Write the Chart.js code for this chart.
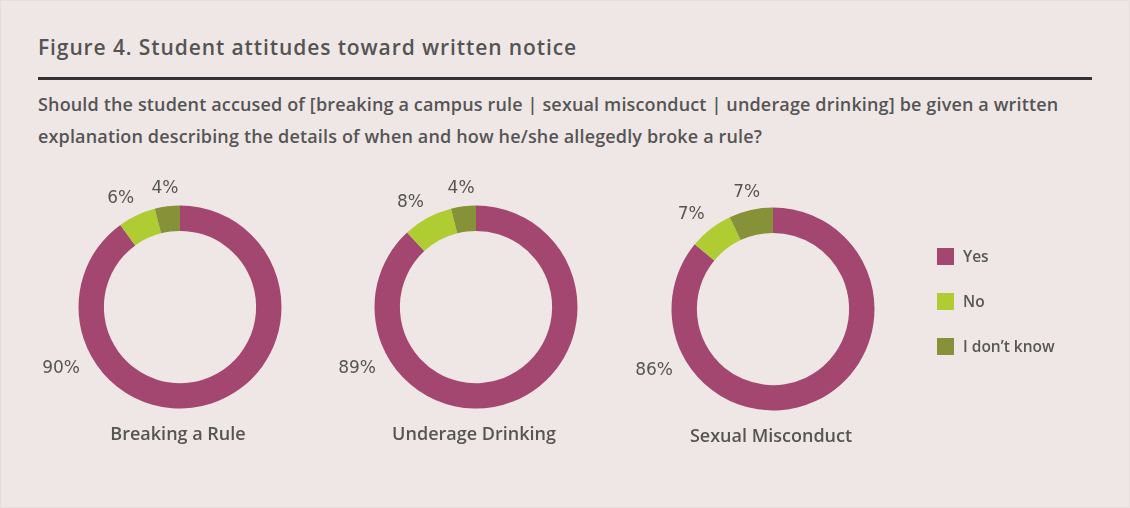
<!DOCTYPE html>
<html>
<head>
<meta charset="utf-8">
<script src="https://cdn.jsdelivr.net/npm/chart.js@4.4.1/dist/chart.umd.min.js"></script>
<style>
  html,body{margin:0;padding:0;}
  body{width:1130px;height:508px;background:#efe7e5;position:relative;overflow:hidden;font-family:"Open Sans",sans-serif;color:#4f4f4f;}
  #frame{position:absolute;left:0;top:0;width:1128px;height:506px;border:1px solid #e6dedc;}
  #title{position:absolute;left:38px;top:33px;font-size:21px;font-weight:600;color:#545454;white-space:nowrap;letter-spacing:0.9px;line-height:28px;}
  #rule{position:absolute;left:38px;top:77px;width:1054px;height:3px;background:#363233;}
  #sub{position:absolute;left:38px;top:88px;font-size:18px;font-weight:600;color:#555;line-height:32px;white-space:nowrap;letter-spacing:0.15px;}
  .c{position:absolute;width:300px;height:300px;}
  #legend{position:absolute;left:937px;top:248px;}
  .li{position:relative;height:45px;font-size:15.5px;font-weight:600;color:#575757;}
  .sw{position:absolute;left:0;top:0;width:17px;height:17px;}
  .lt{position:absolute;left:26px;top:-3px;white-space:nowrap;}
</style>
</head>
<body>
<div id="frame"></div>
<div id="title">Figure 4. Student attitudes toward written notice</div>
<div id="rule"></div>
<div id="sub">Should the student accused of [breaking a campus rule | sexual misconduct | underage drinking] be given a written<br>explanation describing the details of when and how he/she allegedly broke a rule?</div>
<canvas id="c0" class="c" width="300" height="300" style="left:30px;top:157px"></canvas>
<canvas id="c1" class="c" width="300" height="300" style="left:326px;top:157px"></canvas>
<canvas id="c2" class="c" width="300" height="300" style="left:623px;top:159px"></canvas>
<div id="legend"></div>
<script>
const responses = ["Yes", "No", "I don\u2019t know"];
const colors = ["#a34670", "#afcc33", "#879137"];
const charts = ["Breaking a Rule", "Underage Drinking", "Sexual Misconduct"];
const breakingRule = [90, 6, 4];
const underageDrinking = [89, 8, 4];
const sexualMisconduct = [86, 7, 7];
const seriesList = [breakingRule, underageDrinking, sexualMisconduct];

const labelPlugin = {
  id: 'pctLabels',
  afterDraw(chart, args, opts) {
    const ctx = chart.ctx;
    const meta = chart.getDatasetMeta(0);
    const data = chart.data.datasets[0].data;
    const arc0 = meta.data[0];
    const cx = arc0.x, cy = arc0.y, R = arc0.outerRadius;
    ctx.save();
    ctx.fillStyle = '#555';
    ctx.font = '17px "DejaVu Sans", sans-serif';
    ctx.textAlign = 'center';
    ctx.textBaseline = 'middle';
    const maxIdx = data.indexOf(Math.max(...data));
    meta.data.forEach((arc, i) => {
      let a, r, ox = 0;
      if (i === maxIdx) {
        a = (243 - 90) * Math.PI / 180; r = R + 32;
      } else {
        a = (arc.startAngle + arc.endAngle) / 2; r = R + 19; ox = (i === 1 ? -8 : 0);
      }
      ctx.fillText(data[i] + '%', cx + Math.cos(a) * r + ox, cy + Math.sin(a) * r + 1);
    });
    ctx.fillStyle = '#555';
    ctx.font = '600 18px "Open Sans", sans-serif';
    ctx.fillText(opts.caption, cx - 2, cy + R + 26);
    ctx.restore();
  }
};

seriesList.forEach((vals, k) => {
  new Chart(document.getElementById('c' + k), {
    type: 'doughnut',
    data: {
      labels: responses,
      datasets: [{ data: vals, backgroundColor: colors, borderWidth: 0, hoverOffset: 0 }]
    },
    options: {
      responsive: false,
      animation: false,
      cutout: '75%',
      layout: { padding: 48.5 },
      plugins: { legend: { display: false }, tooltip: { enabled: false }, pctLabels: { caption: charts[k] } },
      events: []
    },
    plugins: [labelPlugin]
  });
});

const lg = document.getElementById('legend');
responses.forEach((r, i) => {
  const d = document.createElement('div');
  d.className = 'li';
  d.innerHTML = '<div class="sw" style="background:' + colors[i] + '"></div><div class="lt">' + r + '</div>';
  lg.appendChild(d);
});
</script>
</body>
</html>
